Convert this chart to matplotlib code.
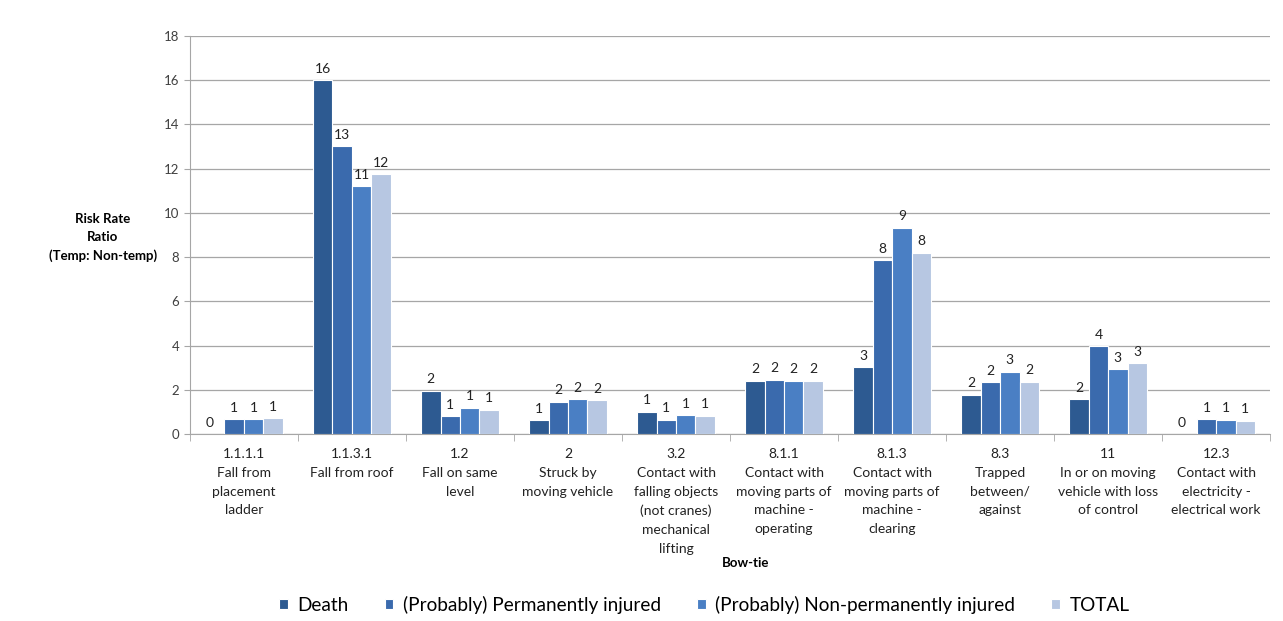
import numpy as np
import matplotlib.pyplot as plt

plt.rcParams['font.family'] = ['Lato', 'DejaVu Sans']

categories = ['1.1.1.1\nFall from\nplacement\nladder',
              '1.1.3.1\nFall from roof',
              '1.2\nFall on same\nlevel',
              '2\nStruck by\nmoving vehicle',
              '3.2\nContact with\nfalling objects\n(not cranes)\nmechanical\nlifting',
              '8.1.1\nContact with\nmoving parts of\nmachine -\noperating',
              '8.1.3\nContact with\nmoving parts of\nmachine -\nclearing',
              '8.3\nTrapped\nbetween/\nagainst',
              '11\nIn or on moving\nvehicle with loss\nof control',
              '12.3\nContact with\nelectricity -\nelectrical work']

series_names = ['Death', '(Probably) Permanently injured',
                '(Probably) Non-permanently injured', 'TOTAL']
death = [0.0, 16.0, 1.97, 0.62, 1.02, 2.40, 3.03, 1.78, 1.58, 0.0]
perm = [0.68, 13.02, 0.80, 1.45, 0.65, 2.46, 7.85, 2.34, 3.97, 0.68]
nonperm = [0.68, 11.20, 1.20, 1.58, 0.86, 2.40, 9.33, 2.82, 2.94, 0.65]
total = [0.72, 11.74, 1.10, 1.52, 0.82, 2.40, 8.21, 2.37, 3.21, 0.60]
labels = [['0', '16', '2', '1', '1', '2', '3', '2', '2', '0'],
          ['1', '13', '1', '2', '1', '2', '8', '2', '4', '1'],
          ['1', '11', '1', '2', '1', '2', '9', '3', '3', '1'],
          ['1', '12', '1', '2', '1', '2', '8', '2', '3', '1']]

colors = ['#2d5a91', '#3a6aad', '#4a7fc4', '#b7c7e2']

fig = plt.figure(figsize=(12.83, 6.21), dpi=100)
ax = fig.add_axes([0.148, 0.301, 0.842, 0.641])

x = np.arange(len(categories))
w = 0.18
data = [death, perm, nonperm, total]
for i, vals in enumerate(data):
    pos = x + (i - 1.5) * w
    bars = ax.bar(pos, vals, w, color=colors[i], edgecolor='white',
                  linewidth=0.8, label=series_names[i], zorder=3)
    for xx, v, t in zip(pos, vals, labels[i]):
        ax.text(xx if v > 0 else xx - 0.05, v + 0.25, t, ha='center',
                va='bottom', fontsize=10, color='#222222')

ax.set_xlim(-0.5, len(categories) - 0.5)
ax.set_ylim(0, 18)
ax.set_yticks(np.arange(0, 19, 2))
ax.yaxis.grid(True, color='#a6a6a6', linewidth=0.9, zorder=0)
ax.tick_params(axis='y', labelsize=9.5, colors='#404040', length=4,
               color='#a6a6a6')
ax.set_xticks(x)
ax.set_xticklabels(categories, fontsize=10, color='#222222', linespacing=1.68)
ax.tick_params(axis='x', length=0, pad=10)
ax.set_xticks(np.arange(-0.5, len(categories), 1), minor=True)
ax.tick_params(axis='x', which='minor', length=5, color='#a6a6a6')
for s in ['top', 'right']:
    ax.spines[s].set_visible(False)
for s in ['left', 'bottom']:
    ax.spines[s].set_color('#a6a6a6')

fig.text(0.080, 0.618, 'Risk Rate\nRatio\n(Temp: Non-temp)', ha='center',
         va='center', fontsize=9.5, fontweight='bold', linespacing=1.6)
fig.text(0.581, 0.093, 'Bow-tie', ha='center', va='center', fontsize=9.5,
         fontweight='bold')

fig.legend(loc='center', bbox_to_anchor=(0.549, 0.026), ncol=4, frameon=False,
           fontsize=13.7, handlelength=0.45, handleheight=0.45, columnspacing=1.9,
           handletextpad=0.5)

fig.savefig('out.png', dpi=100, facecolor='white')
